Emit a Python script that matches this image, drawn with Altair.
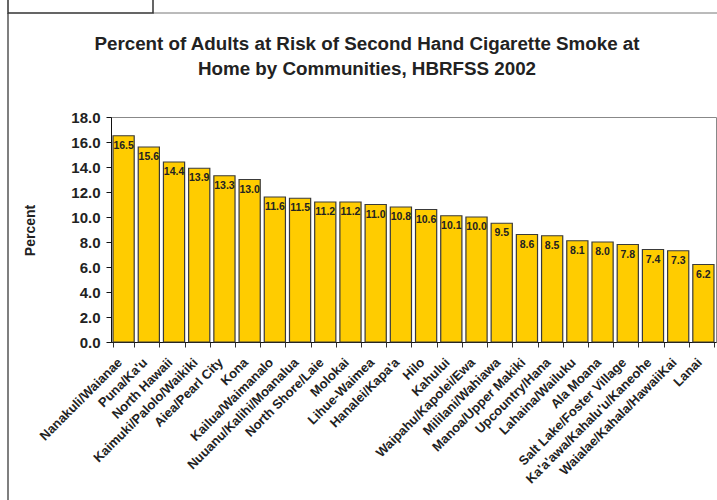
import altair as alt
import pandas as pd

communities = [
    "Nanakuli/Waianae", "Puna/Ka'u", "North Hawaii", "Kaimuki/Palolo/Waikiki",
    "Aiea/Pearl City", "Kona", "Kailua/Waimanalo", "Nuuanu/Kalihi/Moanalua",
    "North Shore/Laie", "Molokai", "Lihue-Waimea", "Hanalei/Kapa'a", "Hilo",
    "Kahului", "Waipahu/Kapolei/Ewa", "Mililani/Wahiawa", "Manoa/Upper Makiki",
    "Upcountry/Hana", "Lahaina/Wailuku", "Ala Moana", "Salt Lake/Foster Village",
    "Ka'a'awa/Kahalu'u/Kaneohe", "Waialae/Kahala/HawaiiKai", "Lanai",
]
percent = [16.5, 15.6, 14.4, 13.9, 13.3, 13.0, 11.6, 11.5, 11.2, 11.2, 11.0, 10.8,
           10.6, 10.1, 10.0, 9.5, 8.6, 8.5, 8.1, 8.0, 7.8, 7.4, 7.3, 6.2]
y_ticks = [0, 2, 4, 6, 8, 10, 12, 14, 16, 18]
title_lines = [
    "Percent of Adults at Risk of Second Hand Cigarette Smoke at",
    "Home by Communities, HBRFSS 2002",
]

df = pd.DataFrame({"community": communities, "percent": percent})

FONT = "Liberation Sans"

x_enc = alt.X(
    "community:N", sort=None, title=None,
    scale=alt.Scale(paddingInner=0.16, paddingOuter=0.08),
    axis=alt.Axis(labelAngle=-45, labelAlign="right", labelBaseline="middle",
                  labelFont=FONT, labelFontSize=13, labelFontWeight="bold",
                  labelColor="#222", labelPadding=13, labelOffset=-4,
                  tickBand="extent", tickSize=5, tickColor="#333",
                  domainColor="#111", labelOverlap=False, labelLimit=300),
)
y_enc = alt.Y(
    "percent:Q", title="Percent",
    scale=alt.Scale(domain=[0, 18], nice=False),
    axis=alt.Axis(values=y_ticks, format=".1f", tickCount=len(y_ticks),
                  grid=False, labelOverlap=False, labelFont=FONT,
                  labelFontSize=15, labelFontWeight="bold", labelColor="#222",
                  tickSize=5, tickColor="#111", domainColor="#111",
                  labelPadding=6, titleFont=FONT, titleFontSize=14,
                  titleFontWeight="bold", titleColor="#222", titleAngle=-90,
                  titleX=-81, titleY=113, titleAlign="center",
                  titleBaseline="middle"),
)

bars = alt.Chart(df).mark_bar(color="#FFCC00", stroke="#3a3a3a",
                              strokeWidth=1.2).encode(x=x_enc, y=y_enc)

values = alt.Chart(df).mark_text(baseline="top", dy=5, font=FONT, fontSize=10.5,
                                 fontWeight="bold", color="#222").encode(
    x=x_enc,
    y=y_enc,
    text=alt.Text("percent:Q", format=".1f"),
)

# two-line chart heading, one text layer per line
heading = [
    alt.Chart(pd.DataFrame({"line": [line]})).mark_text(
        font=FONT, fontSize=18.8, fontWeight="bold", color="#222",
        align="center", baseline="alphabetic", x=256, y=-67 + 25 * i,
    ).encode(text="line:N")
    for i, line in enumerate(title_lines)
]

# page frame: left border, top rule and the tab box in the corner
frame_data = alt.Data(values=[{"k": 0}])
left_line = alt.Chart(frame_data).mark_rule(color="#555", strokeWidth=1.5).encode(
    x=alt.value(-103), y=alt.value(-104), y2=alt.value(383))
top_line = alt.Chart(frame_data).mark_rule(color="#777", strokeWidth=1).encode(
    x=alt.value(42), x2=alt.value(606), y=alt.value(-104))
tab_box = alt.Chart(frame_data).mark_rect(fill="white", stroke="#333",
                                          strokeWidth=1.5).encode(
    x=alt.value(-103), x2=alt.value(42), y=alt.value(-130), y2=alt.value(-104))

chart = alt.layer(left_line, top_line, tab_box, bars, values, *heading).properties(
    width=605, height=225,
    padding={"left": 111, "top": 117, "right": 1, "bottom": 158},
    autosize=alt.AutoSizeParams(type="none"),
    background="white",
).configure_view(stroke="#888", strokeWidth=1)

chart.save("out.html", embed_options={"renderer": "svg", "actions": False})
